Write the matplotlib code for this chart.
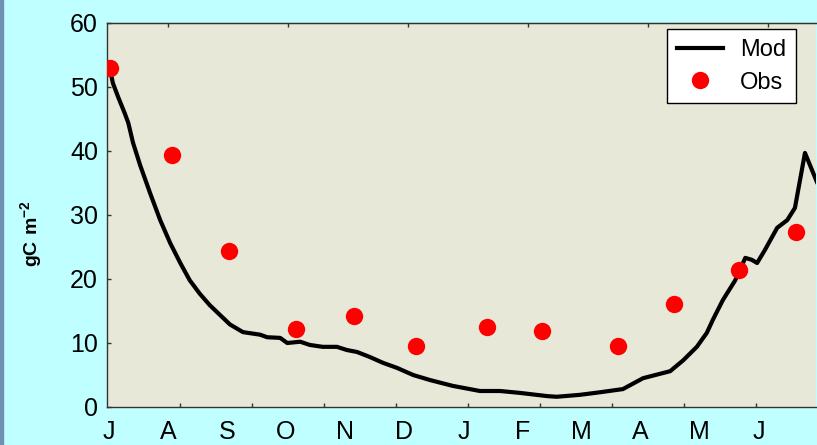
import matplotlib
matplotlib.use("Agg")
import matplotlib.pyplot as plt
import numpy as np
from matplotlib.patches import Rectangle

# Monthly axis: 0 = start of July, 12 = end of June
month_labels = ["J", "A", "S", "O", "N", "D", "J", "F", "M", "A", "M", "J"]

# Model curve (gC m-2)
mod_month = [0.05, 0.07, 0.10, 0.19, 0.30, 0.36, 0.44, 0.56, 0.73, 0.90,
             1.07, 1.24, 1.40, 1.57, 1.74, 1.91, 2.08, 2.30, 2.59, 2.71, 2.93,
             3.05, 3.27, 3.43, 3.65, 3.89, 4.06, 4.23, 4.45, 4.67, 4.91,
             5.18, 5.47, 5.85, 6.31, 6.65, 6.99, 7.45, 7.61, 8.00, 8.34,
             8.73, 9.07, 9.53, 9.75, 9.98, 10.15, 10.25, 10.42, 10.63, 10.80,
             10.91, 11.00, 11.13, 11.34, 11.51, 11.64, 11.81, 12.01]
mod_value = [53.3, 51.9, 50.6, 48.4, 45.9, 44.4, 41.3, 37.8, 33.4, 29.2,
             25.6, 22.5, 19.8, 17.7, 15.9, 14.4, 12.9, 11.7, 11.3, 10.9, 10.8,
             10.0, 10.2, 9.7, 9.4, 9.4, 8.9, 8.6, 7.8, 6.9, 6.1,
             5.0, 4.2, 3.3, 2.5, 2.5, 2.2, 1.7, 1.6, 1.9, 2.3,
             2.8, 4.5, 5.6, 7.3, 9.4, 11.6, 13.6, 16.7, 19.8, 23.3,
             23.0, 22.5, 24.5, 28.0, 29.2, 31.1, 39.7, 35.2]

# Observations
obs_month = [0.05, 1.10, 2.06, 3.20, 4.18, 5.23, 6.43, 7.36, 8.65, 9.59, 10.69, 11.66]
obs_value = [53.0, 39.4, 24.4, 12.2, 14.2, 9.5, 12.5, 11.9, 9.5, 16.1, 21.4, 27.3]

W, H = 817, 445
PX_MONTH = 59.1

plt.rcParams["font.family"] = ["Liberation Sans", "DejaVu Sans"]
plt.rcParams["mathtext.fontset"] = "custom"
plt.rcParams["mathtext.bf"] = "Liberation Sans:bold"
plt.rcParams["mathtext.rm"] = "Liberation Sans"

fig = plt.figure(figsize=(W / 100, H / 100), dpi=100)
fig.patch.set_facecolor("#c0ffff")
fig.patches.append(Rectangle((0, 0), 3 / W, 1, transform=fig.transFigure,
                             color="#7090b0", zorder=0))

ax = fig.add_axes([107 / W, (H - 407) / H, 12 * PX_MONTH / W, 384 / H])
ax.set_facecolor("#e8e8d8")

ax.plot(mod_month, mod_value, color="black", lw=3.0, label="Mod", zorder=2,
        solid_joinstyle="round")
ax.plot(obs_month, obs_value, "o", color="red", markersize=12.5,
        markeredgewidth=0, label="Obs", zorder=3)

ax.set_xlim(0, 12)
ax.set_ylim(0, 60)
ax.set_yticks(np.arange(0, 61, 10))

# month letters as labels, tick marks on their own spacing
ax.set_xticks(np.arange(12) + 0.03)
ax.set_xticklabels(month_labels)
ax.set_xticks([(73 + 72 * k) / PX_MONTH for k in range(9)], minor=True)
ax.tick_params(axis="x", which="major", length=0, pad=9.5, labelsize=18)
ax.tick_params(axis="x", which="minor", direction="in", length=3, width=1,
               color="#333333", top=False, bottom=True)
ax.tick_params(axis="y", direction="in", length=3, width=1, color="#333333",
               pad=6.5, labelsize=18)

# top spine carries its own tick set
top = ax.secondary_xaxis("top")
top.set_xticks([(61 + 120 * k) / PX_MONTH for k in range(6)])
top.set_xticklabels([])
top.tick_params(direction="in", length=3, width=1, color="#333333")
top.spines["top"].set_color("#333333")

for side in ["left", "bottom", "top"]:
    ax.spines[side].set_linewidth(1.0)
    ax.spines[side].set_color("#333333")
ax.spines["right"].set_visible(False)

ax.set_ylabel(r"$\mathbf{gC\ m^{-2}}$", fontsize=14)
ax.yaxis.label.set_va("center")
ax.yaxis.set_label_coords((31.5 - 107) / (12 * PX_MONTH), (407 - 234) / 384)

leg = ax.legend(loc="upper right", bbox_to_anchor=((796 - 107) / (12 * PX_MONTH), (407 - 29) / 384),
                borderaxespad=0, fontsize=17, handlelength=1.95, handletextpad=0.7,
                labelspacing=0.45, borderpad=0.42, fancybox=False, framealpha=1,
                edgecolor="black")
leg.get_frame().set_linewidth(1.0)

fig.savefig("out.png", dpi=100, facecolor=fig.get_facecolor())
